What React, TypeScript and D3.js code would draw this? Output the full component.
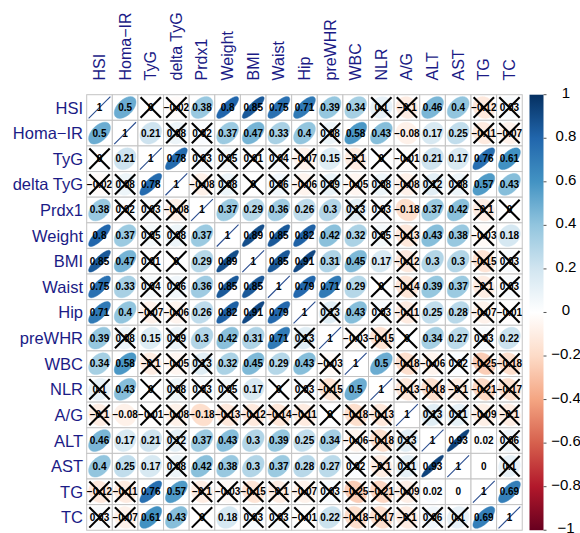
import React from "react";
import * as d3 from "d3";

// variable names (keys) in matrix order
const varKeys = ["HSI", "Homa-IR", "TyG", "delta TyG", "Prdx1", "Weight", "BMI", "Waist", "Hip", "preWHR", "WBC", "NLR", "A/G", "ALT", "AST", "TG", "TC"];

// upper-triangle rows (starting at the diagonal)
const rowHSI = [1, 0.5, 0, -0.02, 0.38, 0.8, 0.85, 0.75, 0.71, 0.39, 0.34, 0.1, -0.1, 0.46, 0.4, -0.12, 0.03];
const rowHoma = [1, 0.21, 0.08, 0.02, 0.37, 0.47, 0.33, 0.4, 0.08, 0.58, 0.43, -0.08, 0.17, 0.25, -0.11, -0.07];
const rowTyG = [1, 0.78, 0.03, 0.05, 0.01, 0.04, -0.07, 0.15, -0.1, 0, -0.01, 0.21, 0.17, 0.76, 0.61];
const rowDeltaTyG = [1, -0.08, 0.08, 0, 0.06, -0.06, 0.09, -0.05, 0.08, -0.08, 0.12, 0.08, 0.57, 0.43];
const rowPrdx1 = [1, 0.37, 0.29, 0.36, 0.26, 0.3, 0.13, 0.03, -0.18, 0.37, 0.42, -0.1, 0];
const rowWeight = [1, 0.89, 0.85, 0.82, 0.42, 0.32, 0.05, -0.13, 0.43, 0.38, -0.03, 0.18];
const rowBMI = [1, 0.85, 0.91, 0.31, 0.45, 0.17, -0.12, 0.3, 0.3, -0.15, 0.03];
const rowWaist = [1, 0.79, 0.71, 0.29, 0, -0.14, 0.39, 0.37, -0.1, 0.03];
const rowHip = [1, 0.13, 0.43, 0.03, -0.11, 0.25, 0.28, -0.07, -0.01];
const rowPreWHR = [1, -0.03, -0.15, 0, 0.34, 0.27, 0.03, 0.22];
const rowWBC = [1, 0.5, -0.18, -0.06, 0.02, -0.25, -0.18];
const rowNLR = [1, -0.13, -0.18, -0.1, -0.21, -0.17];
const rowAG = [1, 0.13, 0.11, -0.09, -0.1];
const rowALT = [1, 0.93, 0.02, 0.06];
const rowAST = [1, 0, 0.1];
const rowTG = [1, 0.69];
const rowTC = [1];

// non-significant pairs (drawn with a cross)
const insignificant: [string, string[]][] = [
  ["HSI", ["TyG", "delta TyG", "NLR", "A/G", "TG", "TC"]],
  ["Homa-IR", ["delta TyG", "Prdx1", "preWHR", "TG", "TC"]],
  ["TyG", ["Prdx1", "Weight", "BMI", "Waist", "Hip", "WBC", "NLR", "A/G"]],
  ["delta TyG", ["Prdx1", "Weight", "BMI", "Waist", "Hip", "preWHR", "WBC", "NLR", "A/G", "ALT", "AST"]],
  ["Prdx1", ["WBC", "NLR", "TG", "TC"]],
  ["Weight", ["NLR", "A/G", "TG"]],
  ["BMI", ["A/G", "TG", "TC"]],
  ["Waist", ["NLR", "A/G", "TG", "TC"]],
  ["Hip", ["preWHR", "NLR", "A/G", "TG", "TC"]],
  ["preWHR", ["WBC", "NLR", "A/G", "TG"]],
  ["WBC", ["A/G", "ALT", "AST", "TG", "TC"]],
  ["NLR", ["A/G", "ALT", "AST", "TG", "TC"]],
  ["A/G", ["ALT", "AST", "TG", "TC"]],
  ["ALT", ["TC"]],
  ["AST", ["TC"]],
];

const colorbarTicks = [1, 0.8, 0.6, 0.4, 0.2, 0, -0.2, -0.4, -0.6, -0.8, -1];
const paletteStops = ["#67001F", "#B2182B", "#D6604D", "#F4A582", "#FDDBC7", "#FFFFFF", "#D1E5F0", "#92C5DE", "#4393C3", "#2166AC", "#053061"];

const upperRows = [rowHSI, rowHoma, rowTyG, rowDeltaTyG, rowPrdx1, rowWeight, rowBMI, rowWaist, rowHip, rowPreWHR, rowWBC, rowNLR, rowAG, rowALT, rowAST, rowTG, rowTC];

const n = varKeys.length;
const matrix: number[][] = d3.range(n).map(() => d3.range(n).map(() => 0));
upperRows.forEach((row, i) => {
  row.forEach((v, k) => {
    const j = i + k;
    matrix[i][j] = v;
    matrix[j][i] = v;
  });
});
const insigSet = new Set<string>();
insignificant.forEach(([a, bs]) => {
  bs.forEach((b) => {
    const i = varKeys.indexOf(a);
    const j = varKeys.indexOf(b);
    insigSet.add(i + "_" + j);
    insigSet.add(j + "_" + i);
  });
});

const minus = (s: string) => s.replace(/-/g, "\u2212");

const FONT = "'Liberation Sans', Arial, Helvetica, sans-serif";
const LABEL_COL = "#1b1b86";

export default function App() {
  const W = 580;
  const H = 533;
  const x0 = 86.7;
  const y0 = 94.7;
  const cell = 25.62;
  const size = cell * n;

  const xScale = d3.scaleBand<number>().domain(d3.range(n)).range([x0, x0 + size]);
  const yScale = d3.scaleBand<number>().domain(d3.range(n)).range([y0, y0 + size]);

  const color = d3
    .scaleLinear<string>()
    .domain(d3.range(11).map((i) => -1 + i * 0.2))
    .range(paletteStops)
    .interpolate(d3.interpolateRgb);

  // ellipse in cell units (corrplot style)
  const ellLine = d3.line<[number, number]>();
  const ellipsePath = (rho: number, cx: number, cy: number) => {
    const a = Math.acos(Math.max(-1, Math.min(1, rho))) / 2;
    const pts: [number, number][] = d3.range(99).map((t) => {
      const k = (t / 98) * 2 * Math.PI;
      const ex = (0.85 * Math.cos(k + a)) / 2;
      const ey = (0.85 * Math.cos(k - a)) / 2;
      return [cx + ex * cell, cy - ey * cell];
    });
    return ellLine(pts) + "Z";
  };

  const cbX = 529.5;
  const cbW = 14;
  const cbScale = d3.scaleLinear().domain([1, -1]).range([y0, y0 + size]);

  const cells: React.ReactNode[] = [];
  const texts: React.ReactNode[] = [];
  const crosses: React.ReactNode[] = [];
  for (let i = 0; i < n; i++) {
    for (let j = 0; j < n; j++) {
      const v = matrix[i][j];
      const cx = (xScale(j) as number) + cell / 2;
      const cy = (yScale(i) as number) + cell / 2;
      cells.push(
        <rect key={`g${i}_${j}`} x={xScale(j)} y={yScale(i)} width={cell} height={cell} fill="white" stroke="#c4c4c4" strokeWidth={1} />
      );
      if (i === j) {
        const h = 0.425 * cell;
        cells.push(<line key={`d${i}`} x1={cx - h} y1={cy + h} x2={cx + h} y2={cy - h} stroke="#2a4d8f" strokeWidth={1.1} />);
      } else {
        const c = color(v);
        cells.push(<path key={`e${i}_${j}`} d={ellipsePath(v, cx, cy)} fill={c} stroke={c} strokeWidth={0.5} />);
      }
      texts.push(
        <text key={`t${i}_${j}`} x={cx} y={cy} textAnchor="middle" dominantBaseline="central" fontSize={10} fontWeight="bold" fontFamily={FONT} fill="black">
          {minus(String(v))}
        </text>
      );
      if (insigSet.has(i + "_" + j)) {
        const h = 10.2;
        crosses.push(
          <g key={`x${i}_${j}`} stroke="black" strokeWidth={2.1}>
            <line x1={cx - h} y1={cy - h} x2={cx + h} y2={cy + h} />
            <line x1={cx - h} y1={cy + h} x2={cx + h} y2={cy - h} />
          </g>
        );
      }
    }
  }

  return (
    <svg width={W} height={H} style={{ position: "absolute", left: 0, top: 0, background: "white" }}>
      <defs>
        <linearGradient id="cbgrad" x1="0" y1="1" x2="0" y2="0">
          {paletteStops.map((c, i) => (
            <stop key={i} offset={`${(i / (paletteStops.length - 1)) * 100}%`} stopColor={c} />
          ))}
        </linearGradient>
      </defs>
      <rect x={0} y={0} width={W} height={H} fill="white" />
      {cells}
      {texts}
      {crosses}
      {/* row labels */}
      {varKeys.map((k, i) => (
        <text key={`rl${i}`} x={83} y={(yScale(i) as number) + cell / 2} textAnchor="end" dominantBaseline="central" fontSize={16.5} fontFamily={FONT} fill={LABEL_COL}>
          {minus(k)}
        </text>
      ))}
      {/* column labels */}
      {varKeys.map((k, j) => {
        const cx = (xScale(j) as number) + cell / 2;
        const by = 80.5;
        return (
          <text key={`cl${j}`} transform={`translate(${cx},${by}) rotate(-90)`} textAnchor="start" dominantBaseline="central" fontSize={16} fontFamily={FONT} fill={LABEL_COL}>
            {minus(k)}
          </text>
        );
      })}
      {/* colorbar */}
      <rect x={cbX} y={y0} width={cbW} height={size} fill="url(#cbgrad)" />
      {colorbarTicks.map((t, i) => (
        <g key={`cb${i}`}>
          <line x1={cbX + cbW} x2={cbX + cbW + 3} y1={cbScale(t)} y2={cbScale(t)} stroke="#555" strokeWidth={1} />
          <text x={566} y={cbScale(t) - 2.5} textAnchor="middle" dominantBaseline="central" fontSize={15} fontFamily={FONT} fill="black">
            {minus(String(t))}
          </text>
        </g>
      ))}
    </svg>
  );
}
